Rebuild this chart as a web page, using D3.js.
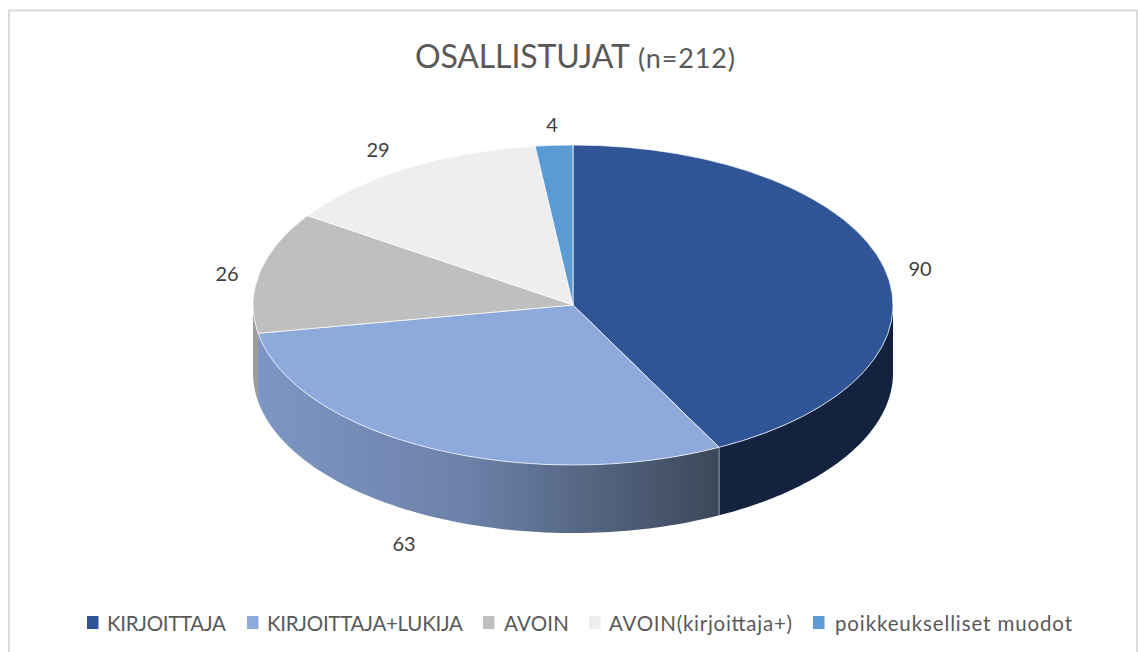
<!DOCTYPE html>
<html>
<head>
<meta charset="utf-8">
<script src="https://cdn.jsdelivr.net/npm/d3@7"></script>
<style>
  html, body { margin: 0; padding: 0; background: #fff; }
  svg { display: block; }
  text { font-family: Lato, "Open Sans", sans-serif; }
</style>
</head>
<body>
<div id="chart"></div>
<script>
var categories = ["KIRJOITTAJA", "KIRJOITTAJA+LUKIJA", "AVOIN", "AVOIN(kirjoittaja+)", "poikkeukselliset muodot"]
var values = [90, 63, 26, 29, 4]
var colors = ["#2f5597", "#8ea9db", "#bfbfbf", "#eeeeee", "#5b9bd5"]

var width = 1138,
    height = 652,
    cx = 573,
    cy = 305,
    rx = 320,
    ry = 160,
    depth = 68

var svg = d3.select("#chart")
  .append("svg")
    .attr("width", width)
    .attr("height", height)

// chart frame, runs off the bottom of the picture
svg.append("rect")
  .attr("x", 9)
  .attr("y", 10.5)
  .attr("width", 1128)
  .attr("height", 660)
  .attr("fill", "#fff")
  .attr("stroke", "#dcdcdc")
  .attr("stroke-width", 2)

// gradient of the front wall
var defs = svg.append("defs")
var grad = defs.append("linearGradient")
  .attr("id", "wall")
  .attr("gradientUnits", "userSpaceOnUse")
  .attr("x1", cx - rx).attr("x2", 720).attr("y1", 0).attr("y2", 0)
grad.append("stop").attr("offset", "0%").attr("stop-color", "#7d96c4")
grad.append("stop").attr("offset", "45%").attr("stop-color", "#6d82aa")
grad.append("stop").attr("offset", "100%").attr("stop-color", "#3c4859")

var pie = d3.pie().sort(null).value(function(d) { return d })
var slices = pie(values)

// flat pie angle (0 = top, clockwise) to point on the tilted ellipse
function px(a) { return cx + rx * Math.sin(a) }
function py(a) { return cy - ry * Math.cos(a) }

// wall of one slice, only the part that faces the viewer
function wallPath(d) {
  var a0 = Math.max(d.startAngle, Math.PI / 2)
  var a1 = Math.min(d.endAngle, Math.PI * 1.5)
  if (a1 <= a0) return null
  var p = d3.path()
  p.moveTo(px(a0), py(a0))
  var n = 80
  d3.range(n + 1).forEach(function(i) {
    var a = a0 + (a1 - a0) * i / n
    p.lineTo(px(a), py(a) + depth)
  })
  d3.range(n + 1).forEach(function(i) {
    var a = a1 - (a1 - a0) * i / n
    p.lineTo(px(a), py(a))
  })
  p.closePath()
  return p.toString()
}

var wallFill = ["#13233f", "url(#wall)", "#9c9c9c", "#c8c8c8", "#44749f"]

svg.append("g").selectAll("path")
  .data(slices)
  .enter()
  .append("path")
    .attr("d", wallPath)
    .attr("fill", function(d, i) { return wallFill[i] })

// separator where the first slice meets the second on the wall
svg.append("line")
  .attr("x1", px(slices[0].endAngle)).attr("x2", px(slices[0].endAngle))
  .attr("y1", py(slices[0].endAngle)).attr("y2", py(slices[0].endAngle) + depth)
  .attr("stroke", "#8f99a8")
  .attr("stroke-width", 1)

// top of the pie, a circle arc squeezed into an ellipse
var arc = d3.arc().innerRadius(0).outerRadius(rx)

svg.append("g")
    .attr("transform", "translate(" + cx + "," + cy + ") scale(1," + (ry / rx) + ")")
  .selectAll("path")
  .data(slices)
  .enter()
  .append("path")
    .attr("d", arc)
    .attr("fill", function(d, i) { return colors[i] })
    .attr("stroke", "#fff")
    .attr("stroke-opacity", 0.7)
    .attr("stroke-width", 1)
    .attr("vector-effect", "non-scaling-stroke")

// data labels
var labelPos = [[920, 276], [404, 551], [227, 281], [378, 157], [552, 132]]
svg.append("g").selectAll("text")
  .data(values)
  .enter()
  .append("text")
    .attr("x", function(d, i) { return labelPos[i][0] })
    .attr("y", function(d, i) { return labelPos[i][1] })
    .attr("text-anchor", "middle")
    .attr("font-size", 20)
    .attr("fill", "#404040")
    .text(function(d) { return d })

// title, two sizes
svg.append("text")
  .attr("x", 415)
  .attr("y", 68)
  .attr("font-size", 32)
  .attr("fill", "#595959")
  .attr("textLength", 215)
  .text("OSALLISTUJAT")
svg.append("text")
  .attr("x", 638)
  .attr("y", 68)
  .attr("font-size", 27)
  .attr("fill", "#595959")
  .attr("textLength", 97)
  .text("(n=212)")

// legend, the text widths follow the picture
var legendX = [87, 247, 483, 589, 813]
var legendTextX = [107, 267, 504, 609, 835]
var legendTextW = [119, 196, 65, 183, 237]
var legend = svg.append("g").selectAll("g")
  .data(categories)
  .enter()
  .append("g")
legend.append("rect")
  .attr("x", function(d, i) { return legendX[i] })
  .attr("y", 616)
  .attr("width", 11.5)
  .attr("height", 13)
  .attr("fill", function(d, i) { return colors[i] })
legend.append("text")
  .attr("x", function(d, i) { return legendTextX[i] })
  .attr("y", 631)
  .attr("font-size", 20.5)
  .attr("fill", "#595959")
  .attr("textLength", function(d, i) { return legendTextW[i] })
  .text(function(d) { return d })
</script>
</body>
</html>
